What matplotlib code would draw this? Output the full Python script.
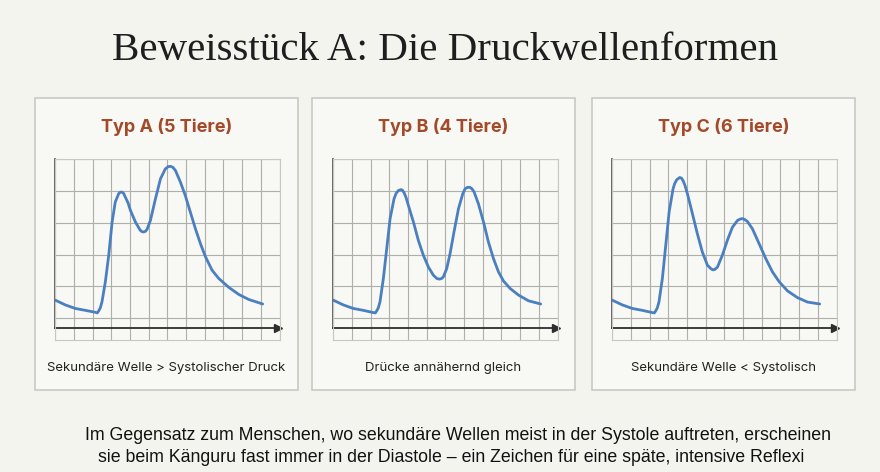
import matplotlib.pyplot as plt
from matplotlib.patches import Rectangle

# Kurvenpunkte (x: 0..12 Rasterfelder, y: Rasterzeilen)
typ_a_x = [0, 0.54, 1.07, 1.61, 2.14, 2.25, 2.32, 2.41, 2.5, 2.68, 2.86, 3.04, 3.21, 3.39, 3.48,
           3.57, 3.66, 3.75, 3.89, 4.02, 4.29, 4.55, 4.64, 4.73, 4.82, 4.91, 5.09, 5.36, 5.63,
           5.89, 6.04, 6.16, 6.29, 6.43, 6.70, 6.96, 7.23, 7.5, 7.77, 8.04, 8.39, 8.75, 9.29,
           9.82, 10.36, 11.1]
typ_a_y = [0.57, 0.42, 0.31, 0.25, 0.19, 0.17, 0.23, 0.33, 0.52, 1.15, 1.98, 3.02, 3.65, 3.91,
           3.96, 3.96, 3.92, 3.80, 3.63, 3.39, 3.02, 2.76, 2.72, 2.71, 2.73, 2.79, 3.07, 3.75,
           4.38, 4.69, 4.76, 4.77, 4.74, 4.64, 4.27, 3.85, 3.33, 2.81, 2.34, 1.93, 1.51, 1.25,
           0.97, 0.75, 0.59, 0.45]

typ_b_x = [0, 0.54, 1.07, 1.61, 2.14, 2.25, 2.32, 2.41, 2.5, 2.68, 2.86, 3.04, 3.25, 3.36, 3.48,
           3.63, 3.70, 3.79, 3.89, 4.02, 4.29, 4.55, 4.82, 5.09, 5.36, 5.54, 5.68, 5.80, 5.89,
           6.07, 6.25, 6.46, 6.70, 6.93, 7.05, 7.14, 7.23, 7.32, 7.43, 7.54, 7.77, 8.04, 8.30,
           8.57, 8.84, 9.11, 9.46, 9.91, 10.45, 11.1]
typ_b_y = [0.57, 0.42, 0.31, 0.25, 0.18, 0.17, 0.23, 0.33, 0.52, 1.25, 2.19, 3.13, 3.75, 3.92,
           4.01, 4.04, 4.02, 3.94, 3.80, 3.54, 3.02, 2.45, 1.98, 1.61, 1.35, 1.25, 1.23, 1.25,
           1.30, 1.56, 2.03, 2.71, 3.44, 3.91, 4.06, 4.10, 4.11, 4.11, 4.06, 3.96, 3.59, 3.02,
           2.40, 1.88, 1.46, 1.17, 0.94, 0.73, 0.55, 0.45]

typ_c_x = [0, 0.54, 1.07, 1.61, 2.14, 2.25, 2.32, 2.41, 2.5, 2.68, 2.86, 3.04, 3.25, 3.34, 3.45,
           3.61, 3.70, 3.79, 3.89, 4.02, 4.29, 4.55, 4.82, 5.09, 5.27, 5.39, 5.5, 5.63, 5.89,
           6.16, 6.43, 6.70, 6.82, 6.96, 7.09, 7.23, 7.5, 7.86, 8.21, 8.57, 8.93, 9.38, 9.91,
           10.45, 11.1]
typ_c_y = [0.57, 0.42, 0.31, 0.25, 0.18, 0.17, 0.23, 0.33, 0.52, 1.25, 2.29, 3.33, 4.06, 4.23,
           4.35, 4.42, 4.40, 4.32, 4.17, 3.91, 3.28, 2.66, 2.08, 1.67, 1.56, 1.52, 1.54, 1.61,
           1.98, 2.45, 2.86, 3.07, 3.11, 3.13, 3.10, 3.04, 2.81, 2.34, 1.88, 1.46, 1.15, 0.86,
           0.65, 0.51, 0.45]

titel = ["Typ A (5 Tiere)", "Typ B (4 Tiere)", "Typ C (6 Tiere)"]
unterschriften = ["Sekundäre Welle > Systolischer Druck",
                  "Drücke annähernd gleich",
                  "Sekundäre Welle < Systolisch"]
kurven = [(typ_a_x, typ_a_y), (typ_b_x, typ_b_y), (typ_c_x, typ_c_y)]

bg = "#f4f4ef"
W, H = 880, 472
fig = plt.figure(figsize=(8.8, 4.72), dpi=100, facecolor=bg)

fig.text(445 / W, 1 - 50 / H, "Beweisstück A: Die Druckwellenformen",
         ha="center", va="center", fontsize=29.5, family="Liberation Serif", color="#1e1e1e")

panel_left = [35, 312, 592]
panel_w = 263
achse_left = [55.3, 333.3, 612.3]

for i in range(3):
    x0 = panel_left[i]
    fig.patches.append(Rectangle((x0 / W, 1 - 390 / H), panel_w / W, 292 / H,
                                 transform=fig.transFigure, facecolor="#f8f8f4",
                                 edgecolor="#c9c9c4", linewidth=1.2, zorder=-1))
    cx = (x0 + panel_w / 2) / W
    fig.text(cx, 1 - 127 / H, titel[i], ha="center", va="center", fontsize=13,
             fontweight="bold", family="Inter", color="#a34a2b")
    fig.text(cx, 1 - 368 / H, unterschriften[i], ha="center", va="center",
             fontsize=9.5, family="Inter", color="#222222")

    ax = fig.add_axes([achse_left[i] / W, 1 - 340 / H, 224.2 / W, 181 / H])
    ax.set_facecolor("none")
    ax.set_xlim(0, 12)
    ax.set_ylim(-0.68, 5)
    ax.set_xticks(range(13))
    ax.set_yticks(range(6))
    ax.grid(True, color="#afafaa", linewidth=0.8)
    ax.tick_params(length=0, labelbottom=False, labelleft=False)
    for s in ax.spines.values():
        s.set_color("#c8c8c3")
        s.set_linewidth(0.8)
    # Achsen
    ax.plot([0, 0], [-0.29, 5], color="#4a4a4a", linewidth=1.2, clip_on=False)
    ax.plot([0, 11.8], [-0.29, -0.29], color="#2e2e2e", linewidth=1.3, clip_on=False)
    ax.plot([11.9], [-0.29], marker=">", color="#2e2e2e", markersize=6, clip_on=False)
    xs, ys = kurven[i]
    ax.plot(xs, ys, color="#4a7fc0", linewidth=2.0, solid_capstyle="round",
            solid_joinstyle="round", zorder=5)

fig.text(458 / W, 1 - 436 / H,
         "Im Gegensatz zum Menschen, wo sekundäre Wellen meist in der Systole auftreten, erscheinen",
         ha="center", va="center", fontsize=12.8, family="Liberation Sans",
         color="#111111")
fig.text(451 / W, 1 - 457 / H,
         "sie beim Känguru fast immer in der Diastole – ein Zeichen für eine späte, intensive Reflexi",
         ha="center", va="center", fontsize=12.8, family="Liberation Sans",
         color="#111111")

fig.savefig("out.png", dpi=100, facecolor=bg)
